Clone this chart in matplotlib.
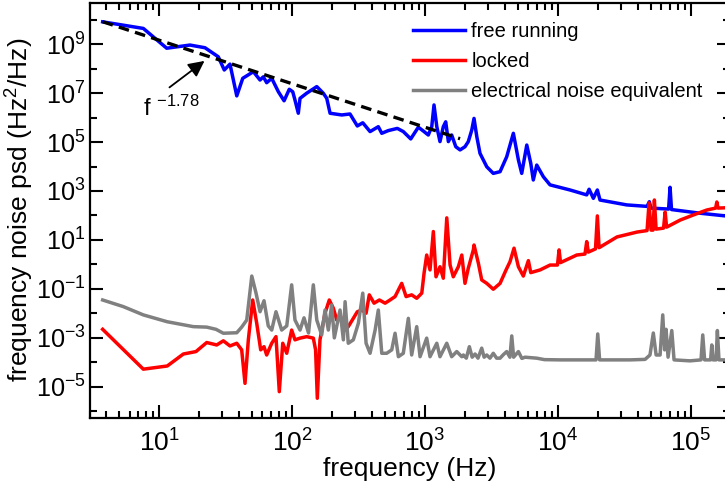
import numpy as np
import matplotlib
matplotlib.use("Agg")
import matplotlib.pyplot as plt
from matplotlib.ticker import FixedLocator, LogLocator, NullFormatter, LogFormatterSciNotation

plt.rcParams['font.family'] = ['Liberation Sans', 'DejaVu Sans']
plt.rcParams['mathtext.fontset'] = 'custom'
plt.rcParams['mathtext.rm'] = 'Liberation Sans'
plt.rcParams['mathtext.it'] = 'Liberation Sans'
plt.rcParams['mathtext.default'] = 'regular'
plt.rcParams['axes.unicode_minus'] = False

# ---- data (log10 of frequency in Hz, log10 of PSD in Hz^2/Hz) ----
free_logf = [0.576, 0.882, 1.058, 1.233, 1.346, 1.446, 1.491, 1.534, 1.585, 1.630,
             1.710, 1.760, 1.785, 1.810, 1.848, 1.898, 1.941, 1.980, 2.006, 2.023,
             2.048, 2.061, 2.111, 2.187, 2.236, 2.262, 2.287, 2.375, 2.437, 2.492,
             2.533, 2.588, 2.650, 2.676, 2.725, 2.793, 2.838, 2.894, 2.951, 2.994,
             3.026, 3.052, 3.069, 3.090, 3.114, 3.139, 3.157, 3.177, 3.202, 3.233,
             3.265, 3.302, 3.327, 3.353, 3.370, 3.391, 3.415, 3.466, 3.515, 3.566,
             3.616, 3.666, 3.704, 3.729, 3.767, 3.797, 3.816, 3.842, 3.892, 3.942,
             4.093, 4.218, 4.236, 4.268, 4.298, 4.318, 4.519, 4.672, 4.689, 4.701,
             4.834, 4.845, 4.856, 5.071, 5.296]
free_logp = [9.92, 9.65, 8.84, 8.97, 8.86, 8.49, 7.95, 8.19, 6.89, 7.61,
             7.88, 7.54, 7.67, 7.43, 7.61, 7.06, 6.69, 7.16, 7.06, 6.72,
             6.18, 6.79, 7.00, 7.27, 7.00, 6.79, 6.18, 6.11, 6.15, 5.66,
             5.79, 5.43, 5.63, 5.36, 5.47, 5.56, 5.43, 5.13, 5.61, 5.43,
             5.29, 5.63, 6.52, 5.63, 5.02, 5.63, 5.83, 5.02, 5.29, 4.81,
             4.68, 4.81, 5.02, 5.49, 5.97, 5.22, 4.54, 3.99, 3.72, 3.79,
             4.40, 5.36, 4.27, 3.72, 4.88, 4.13, 3.45, 4.06, 3.58, 3.25,
             3.04, 2.84, 3.07, 2.70, 3.04, 2.63, 2.43, 2.37, 2.56, 2.30,
             2.26, 3.15, 2.24, 2.09, 1.96]

locked_logf = [0.576, 0.882, 1.062, 1.183, 1.278, 1.359, 1.434, 1.484, 1.534, 1.585,
               1.622, 1.647, 1.672, 1.705, 1.735, 1.765, 1.790, 1.810, 1.848, 1.880,
               1.905, 1.931, 1.961, 1.998, 2.023, 2.061, 2.111, 2.161, 2.178, 2.191,
               2.211, 2.249, 2.281, 2.312, 2.337, 2.362, 2.400, 2.424, 2.462, 2.492,
               2.525, 2.558, 2.582, 2.618, 2.658, 2.701, 2.738, 2.776, 2.826, 2.859,
               2.901, 2.939, 2.977, 2.994, 3.014, 3.039, 3.064, 3.084, 3.114, 3.139,
               3.165, 3.190, 3.214, 3.252, 3.278, 3.302, 3.327, 3.365, 3.370, 3.403,
               3.428, 3.466, 3.515, 3.566, 3.611, 3.641, 3.671, 3.704, 3.741, 3.779,
               3.797, 3.867, 3.942, 3.998, 4.010, 4.021, 4.143, 4.205, 4.218, 4.230,
               4.284, 4.298, 4.311, 4.446, 4.597, 4.672, 4.687, 4.702, 4.717, 4.727,
               4.740, 4.796, 4.808, 4.819, 4.921, 5.021, 5.121, 5.188, 5.197, 5.206,
               5.296]
locked_logp = [-2.66, -4.29, -4.16, -3.67, -3.57, -3.20, -3.30, -3.13, -3.34, -3.23,
               -3.50, -4.87, -3.09, -1.46, -2.41, -3.50, -3.37, -3.71, -3.23, -2.96,
               -5.21, -3.23, -3.64, -2.69, -3.09, -3.02, -2.96, -3.02, -3.50, -5.48,
               -3.09, -2.00, -1.46, -1.80, -2.28, -2.07, -2.69, -2.55, -2.21, -1.94,
               -1.87, -2.00, -1.25, -1.59, -1.46, -1.59, -1.46, -1.32, -0.78, -1.32,
               -1.25, -1.39, -1.18, -0.37, 0.38, -0.23, 1.34, -0.51, -0.10, -0.57,
               1.90, -0.03, -0.51, -0.10, 0.38, -0.78, -0.16, 0.59, 0.79, 0.04,
               -0.64, -0.78, -1.02, -0.78, -0.23, 0.11, 0.66, -0.10, -0.48, 0.15,
               -0.34, -0.23, -0.03, -0.03, 0.59, 0.07, 0.38, 0.42, 0.93, 0.50,
               0.63, 1.98, 0.68, 1.12, 1.32, 1.38, 2.51, 1.40, 1.40, 2.63,
               1.44, 1.48, 2.14, 1.52, 1.81, 2.02, 2.22, 2.30, 2.55, 2.30,
               2.32]

elec_logf = [0.576, 0.731, 0.882, 1.062, 1.258, 1.359, 1.429, 1.484, 1.585, 1.622,
             1.660, 1.698, 1.730, 1.760, 1.790, 1.822, 1.848, 1.880, 1.923, 1.961,
             1.998, 2.023, 2.061, 2.091, 2.125, 2.161, 2.187, 2.224, 2.249, 2.274,
             2.299, 2.319, 2.362, 2.387, 2.400, 2.424, 2.462, 2.500, 2.533, 2.558,
             2.588, 2.626, 2.650, 2.676, 2.713, 2.751, 2.776, 2.801, 2.838, 2.876,
             2.901, 2.939, 2.964, 3.014, 3.039, 3.090, 3.114, 3.165, 3.202, 3.240,
             3.278, 3.290, 3.312, 3.335, 3.356, 3.378, 3.400, 3.428, 3.446, 3.466,
             3.490, 3.515, 3.540, 3.566, 3.590, 3.616, 3.640, 3.654, 3.668, 3.704,
             3.730, 3.754, 3.842, 3.900, 4.017, 4.288, 4.301, 4.315, 4.544, 4.657,
             4.694, 4.719, 4.740, 4.770, 4.790, 4.804, 4.815, 4.830, 4.858, 4.875,
             4.995, 5.078, 5.091, 5.105, 5.150, 5.159, 5.169, 5.191, 5.201, 5.213,
             5.296]
elec_logp = [-1.46, -1.73, -2.07, -2.35, -2.55, -2.57, -2.66, -2.82, -2.80, -2.57,
             -2.28, -0.48, -1.18, -1.94, -1.49, -2.52, -2.69, -1.94, -2.69, -2.52,
             -0.84, -2.28, -2.69, -2.19, -2.81, -0.84, -2.28, -2.89, -1.87, -2.69,
             -1.66, -3.01, -1.87, -3.09, -1.53, -3.23, -3.09, -2.41, -1.18, -3.23,
             -3.64, -2.69, -1.87, -3.64, -3.64, -3.50, -2.82, -3.78, -3.64, -2.21,
             -3.71, -2.55, -3.78, -3.02, -3.78, -3.23, -3.78, -3.23, -3.78, -3.57,
             -3.78, -3.71, -3.84, -3.37, -3.80, -3.67, -3.84, -3.43, -3.80, -3.71,
             -3.84, -3.64, -3.84, -3.84, -3.70, -3.57, -3.80, -2.93, -3.80, -3.57,
             -3.85, -3.80, -3.84, -3.90, -3.91, -3.91, -2.85, -3.91, -3.91, -3.89,
             -3.71, -2.81, -3.71, -3.71, -2.07, -3.50, -2.66, -3.80, -2.71, -3.91,
             -3.95, -3.91, -2.89, -3.91, -3.91, -3.30, -3.91, -3.91, -2.71, -3.91,
             -3.91]

fit_exponent = -1.78
fit_log_amp = 10.95
fit_logf_range = [0.576, 3.265]

series_labels = ['free running', 'locked', 'electrical noise equivalent']
series_colors = ['#0000FF', '#FF0000', '#808080']

# ---- figure ----
fig = plt.figure(figsize=(7.25, 4.86), dpi=100)
ax = fig.add_axes([89.5 / 725, (486 - 418.3) / 486, (730 - 89.5) / 725, (418.3 - 3.5) / 486])

lw = 2.5
for lf, lp, lab, col in zip([free_logf, locked_logf, elec_logf],
                            [free_logp, locked_logp, elec_logp],
                            series_labels, series_colors):
    ax.plot(10 ** np.array(lf), 10 ** np.array(lp), color=col, lw=lw, label=lab,
            solid_joinstyle='round')

ax.plot(10 ** np.array(fit_logf_range),
        10 ** (fit_log_amp + fit_exponent * np.array(fit_logf_range)),
        color='black', lw=2.4, dashes=(3.2, 1.9))

ax.set_xscale('log')
ax.set_yscale('log')
ax.set_xlim(10 ** 0.477, 10 ** 5.296)
ax.set_ylim(10 ** -6.30, 10 ** 10.67)

ax.xaxis.set_major_locator(FixedLocator([1e1, 1e2, 1e3, 1e4, 1e5]))
ax.xaxis.set_minor_locator(LogLocator(base=10, subs=np.arange(2, 10), numticks=20))
ax.xaxis.set_major_formatter(LogFormatterSciNotation())
ax.xaxis.set_minor_formatter(NullFormatter())
ax.yaxis.set_major_locator(FixedLocator([10.0 ** e for e in range(-5, 10, 2)]))
ax.yaxis.set_minor_locator(FixedLocator([10.0 ** e for e in range(-6, 11, 2)]))
ax.yaxis.set_major_formatter(LogFormatterSciNotation())
ax.yaxis.set_minor_formatter(NullFormatter())

ax.tick_params(which='both', direction='in', top=True, right=True, width=1.5, colors='black')
ax.tick_params(which='major', length=9.5)
ax.tick_params(axis='x', which='major', pad=8, labelsize=19)
ax.tick_params(axis='y', which='major', pad=3, labelsize=18.2)
ax.tick_params(which='minor', length=5)
for s in ax.spines.values():
    s.set_linewidth(1.6)

ax.set_xlabel('frequency (Hz)', fontsize=19, labelpad=0)
ax.set_ylabel('frequency noise psd (Hz$^{2}$/Hz)', fontsize=19, va='center')
ax.yaxis.set_label_coords((20 - 89.5) / 640.5, 0.5 + 1.5 / 414.8)

leg = ax.legend(loc='upper left', bbox_to_anchor=(0.505, 0.955), frameon=False, fontsize=14.5,
                handlelength=2.6, handletextpad=0.3, labelspacing=0.55, borderaxespad=0.0,
                borderpad=0.0)

ax.annotate('', xy=(10 ** 1.359, 10 ** 8.39), xytext=(10 ** 1.062, 10 ** 7.17),
            arrowprops=dict(arrowstyle='-|>', color='black', lw=1.3, mutation_scale=24))
ax.text(10 ** 0.88, 10 ** 6.07, r'f $^{-1.78}$', fontsize=17, ha='left', va='baseline')

fig.savefig('out.png', dpi=100)
